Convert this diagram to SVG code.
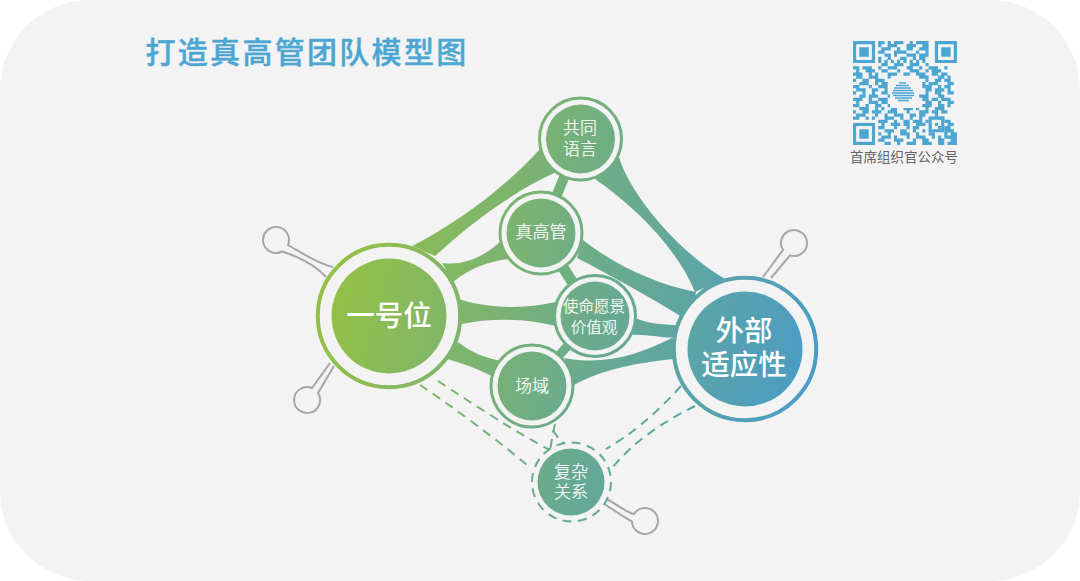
<svg xmlns="http://www.w3.org/2000/svg" width="1080" height="581" viewBox="0 0 1080 581">
<defs>
<linearGradient id="g" gradientUnits="userSpaceOnUse" x1="340" y1="270" x2="800" y2="400">
<stop offset="0" stop-color="#94c046"/><stop offset="0.5" stop-color="#6dac88"/><stop offset="1" stop-color="#4a9cc6"/>
</linearGradient>
<clipPath id="qc"><rect width="33" height="33"/></clipPath>
</defs>
<style>
.bg{fill:#f3f3f3}
.f{fill:url(#g)}
.l{fill:none;stroke:url(#g)}
.ring{fill:#f3f3f3;stroke:url(#g)}
.dash{fill:none;stroke:url(#g);stroke-width:2;stroke-dasharray:9 6.500}
.h{fill:#f3f3f3;stroke:#a6a6a6;stroke-width:2}
text{font-family:"Noto Sans CJK SC","Noto Sans",sans-serif;text-anchor:middle;fill:#fff}
.s{font-size:17px;font-weight:300;stroke:#fff;stroke-width:.2}
.m{font-size:15.500px;font-weight:300;stroke:#fff;stroke-width:.2}
.b{font-size:28.500px;font-weight:500}
.q{fill:none;stroke:#4ba6d2;stroke-width:1.03}
</style>
<rect width="1080" height="581" fill="#fff"/>
<rect class="bg" width="1080" height="581" rx="90"/>
<text id="title" x="307" y="63" style="font-size:30px;font-weight:500;letter-spacing:2.300px;fill:#4ba6d2;stroke:#4ba6d2;stroke-width:.4">打造真高管团队模型图</text>

<g id="qrcode">
<g transform="translate(853 41) scale(3.15)" clip-path="url(#qc)">
<path d="M0 0h7v7h-7zM1 1v5h5v-5zM2 2h3v3h-3zM26 0h7v7h-7zM27 1v5h5v-5zM28 2h3v3h-3zM0 26h7v7h-7zM1 27v5h5v-5zM2 28h3v3h-3zM24 24h5v5h-5zM25 25v3h3v-3zM26 26h1v1h-1z" fill="#4ba6d2" fill-rule="evenodd"/>
<path class="q" d="M8 .5h2m1 0h1m1 0h3m2 0h1m1 0h4M8 1.5h1m2 0h3m3 0h3m2 0h2M9 2.500h3m2 0h1m2 0h2m2 0h3M8 3.500h2m3 0h4m3 0h1m2 0h1M10 4.500h2m1 0h1m3 0h3m1 0h3M8 5.500h1m2 0h1m3 0h2m2 0h1m1 0h2M8 6.500h1m1 0h1m1 0h1m1 0h1m1 0h1m1 0h1m1 0h1m1 0h1M9 7.500h2m2 0h3m2 0h3m2 0h1M0 8.500h2m1 0h3m2 0h1m2 0h3m3 0h2m2 0h1m2 0h3m2 0h1M1 9.500h1m2 0h3m2 0h2m3 0h1m3 0h3m2 0h1m1 0h3M0 10.500h3m2 0h1m1 0h1m3 0h3m2 0h2m2 0h3m2 0h2m1 0h2M1 11.500h2m2 0h3m3 0h1m9 0h3m3 0h2m1 0h1M0 12.500h1m2 0h2m2 0h3m13 0h1m2 0h2m1 0h2M2 13.500h3m2 0h1m1 0h2m11 0h1m1 0h3m3 0h2M0 14.500h2m3 0h1m2 0h3m11 0h3m2 0h1m1 0h2M1 15.500h3m2 0h2m2 0h1m12 0h2m1 0h3m1 0h1M0 16.500h1m2 0h1m2 0h1m2 0h2m12 0h1m2 0h2m2 0h2M2 17.500h2m1 0h3m3 0h1m9 0h3m3 0h2M0 18.500h3m2 0h1m2 0h3m11 0h2m1 0h2m1 0h3M1 19.500h1m3 0h3m1 0h2m12 0h2m2 0h1m2 0h2M0 20.500h2m2 0h1m2 0h2m2 0h1m10 0h3m2 0h2m1 0h1M2 21.500h3m2 0h1m1 0h1m2 0h2m2 0h3m1 0h1m2 0h1m2 0h3M0 22.500h1m2 0h2m1 0h3m2 0h3m3 0h1m3 0h3m1 0h2m1 0h2M1 23.500h3m3 0h1m2 0h1m2 0h3m2 0h2m1 0h2m3 0h1M0 24.500h2m2 0h1m1 0h1m3 0h3m2 0h1m2 0h1m2 0h1m5 0h2M8 25.500h3m2 0h1m2 0h2m1 0h3m1 0h1m5 0h2M9 26.500h1m2 0h3m1 0h2m2 0h3m7 0h2M8 27.500h2m3 0h1m3 0h1m1 0h2m6 0h1m1 0h2M10 28.500h3m2 0h2m2 0h1m2 0h1m6 0h3M8 29.500h1m2 0h1m3 0h3m2 0h1m3 0h2m3 0h1m1 0h2M9 30.500h3m1 0h1m3 0h1m2 0h3m2 0h1m1 0h1m1 0h4M8 31.500h2m3 0h3m3 0h1m2 0h2m3 0h2m2 0h2M10 32.500h2m2 0h1m2 0h3m2 0h3m2 0h2m1 0h3"/>
</g>
<rect x="890" y="78" width="29" height="30" fill="#f3f3f3"/>
<g fill="none" stroke="#4ba6d2" stroke-width="1.6">
<path d="M899 83h7M896 85.500h13M894 88h17M893 90.500h20M892 93h22M893 95.500h21M895 98h17M898 100.500h11"/>
</g>
<text x="904" y="162" style="font-size:13.500px;fill:#666">首席组织官公众号</text>
</g>

<g id="connectors">
<path class="f" d="M412 246C455 224 505 188 540 149L556 172C512 192 470 224 435 256Z"/>
<path class="f" d="M442 263C465 266 485 256 502 240L508 259C490 261 470 268 453 282Z"/>
<path class="f" d="M458 299C490 309 525 309 556 302L556 326C525 318 490 318 462 324Z"/>
<path class="f" d="M458 342C470 352 485 358 502 361L494 377C480 370 465 364 447 359Z"/>
<path class="l" stroke-width="10" d="M580 139L541 233"/>
<path class="l" stroke-width="11" d="M541 233L594 316"/>
<path class="l" stroke-width="9" d="M594 316L532 386"/>
<path class="f" d="M619 157C628 190 675 250 725 279L695 292C678 250 637 208 595 179Z"/>
<path class="f" d="M583 240C615 265 655 284 696 292L690 322C650 297 610 275 577 258Z"/>
<path class="f" d="M635 318C648 323 660 325 680 325L680 338C660 338 645 334 633 335Z"/>
<path class="f" d="M565 358C605 366 640 354 672 338L685 358C640 362 605 368 572 386Z"/>
<path class="dash" d="M420 385C450 405 495 438 527 465"/>
<path class="dash" d="M438 381C470 402 515 432 550 450"/>
<path class="dash" d="M555 424C553 432 552 440 550 450"/>
<path class="dash" d="M553 430C556 436 560 440 566 445"/>
<path class="dash" d="M695 406C665 421 635 440 612 468"/>
<path class="dash" d="M681 386C655 415 630 435 606 449"/>
</g>

<g id="handles">
<path class="h" d="M333 267C318 264 302 253 288 245A13 13 0 1 0 282 251.500C297 256 315 265 326 277"/>
<path class="h" d="M330 363L312 388A13 13 0 1 0 318 393L334 366"/>
<path class="h" d="M763 277L783 250A13 13 0 1 1 790 255.400L771 278"/>
<path class="h" d="M605 498C615 503 625 512 634 514A13 13 0 1 1 632 521.500C622 516 612 509 603 503"/>
</g>

<g id="node-yihaowei">
<circle class="ring" cx="389" cy="316" r="71.200" stroke-width="4"/>
<circle class="f" cx="389" cy="316" r="57.500"/>
<text x="389" y="326" class="b">一号位</text>
</g>
<g id="node-waibu">
<circle class="ring" cx="745" cy="349" r="71.200" stroke-width="4"/>
<circle class="f" cx="745" cy="349" r="57.500"/>
<text x="744" y="341" class="b">外部</text>
<text x="744" y="375" class="b">适应性</text>
</g>
<g id="node-gongtong">
<circle class="ring" cx="580.500" cy="139" r="41" stroke-width="3"/>
<circle class="f" cx="580.500" cy="139" r="34.500"/>
<text x="580" y="134" class="s">共同</text>
<text x="580" y="155" class="s">语言</text>
</g>
<g id="node-zhengaoguan">
<circle class="ring" cx="541" cy="233" r="41" stroke-width="3"/>
<circle class="f" cx="541" cy="233" r="34.500"/>
<text x="541" y="238" class="s">真高管</text>
</g>
<g id="node-shiming">
<circle class="ring" cx="595" cy="316" r="40.500" stroke-width="3"/>
<circle class="f" cx="595" cy="316" r="34.500"/>
<text x="594" y="312" class="m">使命愿景</text>
<text x="594" y="333" class="m">价值观</text>
</g>
<g id="node-changyu">
<circle class="ring" cx="532" cy="386" r="41" stroke-width="3"/>
<circle class="f" cx="532" cy="386" r="34.500"/>
<text x="532" y="392" class="s">场域</text>
</g>
<g id="node-fuza">
<circle class="dash" cx="571.500" cy="482" r="39.500" style="fill:#f3f3f3"/>
<circle class="f" cx="571" cy="482" r="33.500"/>
<text x="571" y="478" class="s">复杂</text>
<text x="571" y="498" class="s">关系</text>
</g>
</svg>
